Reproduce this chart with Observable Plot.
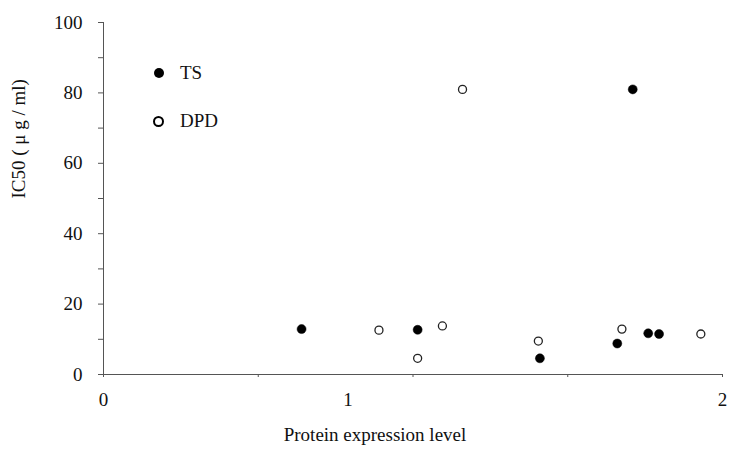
<!DOCTYPE html>
<html>
<head>
<meta charset="utf-8">
<script src="https://cdn.jsdelivr.net/npm/d3@7"></script>
<script src="https://cdn.jsdelivr.net/npm/@observablehq/plot@0.6"></script>
</head>
<body style="margin:0;background:#fff;font-family:'Liberation Serif'">
<div id="wrap" style="position:relative;width:729px;height:457px;font-family:'Liberation Serif'"></div>
<script>
// Data
const tsX  = [0.64, 1.015, 1.41, 1.66, 1.71, 1.76, 1.795];
const tsY  = [12.9, 12.7, 4.6, 8.8, 81.0, 11.7, 11.5];
const dpdX = [0.89, 1.015, 1.095, 1.16, 1.405, 1.675, 1.93];
const dpdY = [12.6, 4.6, 13.8, 81.0, 9.5, 12.9, 11.5];
const yTicks = [0, 10, 20, 30, 40, 50, 60, 70, 80, 90, 100];
const yLabels = [0, 20, 40, 60, 80, 100];
const xTicks = [0, 0.5, 1, 1.5, 2];
const xLabels = ["0", "1", "2"];
const seriesNames = ["TS", "DPD"];
const xTitle = "Protein expression level";
const yTitle = "IC50 ( \u03BC g / ml)";

const ts = tsX.map((x, i) => ({x, y: tsY[i]}));
const dpd = dpdX.map((x, i) => ({x, y: dpdY[i]}));

const FONT = "Liberation Serif";
const axisColor = "#555";
const chart = Plot.plot({
  width: 729,
  height: 457,
  marginLeft: 103,
  marginRight: 7,
  marginTop: 22,
  marginBottom: 83,
  style: {fontFamily: FONT, fontSize: "19px", color: "#111", background: "white"},
  x: {domain: [0, 2], label: null},
  y: {domain: [0, 100], label: null},
  marks: [
    Plot.axisY({ticks: yTicks, tickSize: 5, tickPadding: 16, stroke: axisColor, fontFamily: FONT, fontSize: 19,
      tickFormat: d => yLabels.includes(d) ? String(d) : ""}),
    Plot.axisX({ticks: xTicks, tickSize: 3, stroke: axisColor, tickFormat: () => ""}),
    Plot.text([0, 2], {x: d => d, frameAnchor: "bottom", dy: 31, text: d => xLabels[d], fill: "#111", fontSize: 19, fontFamily: FONT}),
    Plot.text([1], {x: d => d, frameAnchor: "bottom", dy: 31, dx: -65, text: d => xLabels[d], fill: "#111", fontSize: 19, fontFamily: FONT}),
    Plot.ruleX([0], {stroke: axisColor, strokeWidth: 1}),
    Plot.ruleY([0], {stroke: axisColor, strokeWidth: 1}),
    Plot.dot(ts, {x: "x", y: "y", r: 4.5, fill: "#000", stroke: "#000", strokeWidth: 0.5}),
    Plot.dot(dpd, {x: "x", y: "y", r: 4, fill: "white", stroke: "#222", strokeWidth: 1.3}),
    Plot.text([xTitle], {frameAnchor: "bottom", dy: 66, dx: -38, text: d => d, fill: "#111", fontSize: 19, fontFamily: FONT}),
    Plot.text([yTitle], {frameAnchor: "left", dx: -85, rotate: -90, text: d => d, fill: "#111", fontSize: 19, fontFamily: FONT})
  ]
});
const wrap = document.getElementById("wrap");
wrap.appendChild(chart);

// Legend
function legendItem(name, left, top, symStyle) {
  const d = document.createElement("div");
  d.style.cssText = `position:absolute;left:${left}px;top:${top}px;font-family:'Liberation Serif';font-size:19px;color:#111;display:flex;align-items:center;`;
  d.innerHTML = `<span style="display:inline-block;box-sizing:border-box;border-radius:50%;margin-right:16px;${symStyle}"></span><span>${name}</span>`;
  wrap.appendChild(d);
}
legendItem(seriesNames[0], 154, 62, "width:10px;height:10px;background:#000");
legendItem(seriesNames[1], 153, 110, "width:11px;height:11px;border:2.6px solid #000;background:#fff");
</script>
</body>
</html>
